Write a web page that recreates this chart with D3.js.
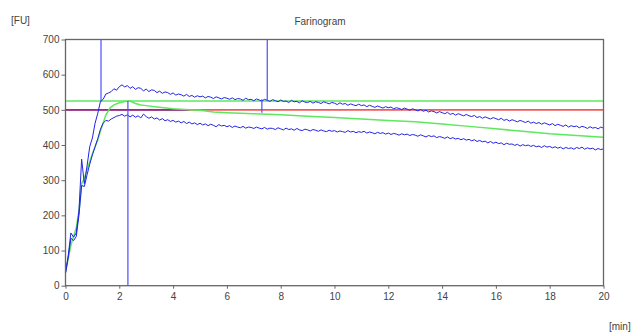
<!DOCTYPE html>
<html><head><meta charset="utf-8">
<script src="https://cdn.jsdelivr.net/npm/d3@7"></script>
<style>body{margin:0;background:#fff}svg{display:block}</style>
</head><body>
<svg id="c" width="632" height="334"></svg>
<script>
// ---- data ----
const title = "Farinogram";
const yUnit = "[FU]";
const xUnit = "[min]";
const xTicks = [0, 2, 4, 6, 8, 10, 12, 14, 16, 18, 20];
const yTicks = [0, 100, 200, 300, 400, 500, 600, 700];
const sampleStep = 0.1; // minutes between samples of the band curves
const upperBand = [
38,85,150,138,150,212,360,290,340,395,
420,462,490,524,530,545,548,552,560,556,
566,571,565,569,561,566,558,563,561,554,
559,552,557,555,549,553,547,551,549,544,
548,542,545,543,539,544,538,541,536,540,
537,539,534,538,536,532,537,534,531,535,
533,530,534,529,532,531,527,533,529,530,
526,531,528,525,530,527,524,529,526,523,
528,524,525,521,527,523,524,520,526,522,
521,524,519,523,521,518,523,520,517,521,
519,515,520,516,518,513,517,514,512,516,
512,514,509,513,510,507,511,508,505,509,
506,508,503,506,504,501,505,502,499,503,
500,497,501,496,499,494,497,495,491,495,
492,489,493,487,490,485,489,486,483,487,
483,481,484,478,481,476,480,477,474,478,
475,472,476,470,473,468,472,469,466,470,
467,464,468,462,465,461,464,459,463,460,
457,461,455,459,456,453,457,451,455,452,
454,449,453,451,447,452,448,450,446,451,448];
const lowerBand = [
35,80,135,128,140,200,285,282,315,345,
372,395,418,445,462,470,468,474,478,482,
484,487,482,486,480,485,479,483,477,488,
481,476,480,474,477,471,475,469,472,467,
470,465,468,463,467,461,465,460,463,458,
462,457,460,455,459,456,452,458,454,456,
452,455,450,454,451,449,453,448,451,450,
447,451,448,446,450,445,448,447,444,449,
446,443,448,444,446,442,447,443,441,445,
443,440,444,442,439,443,440,438,442,439,
441,437,440,438,436,441,437,439,435,438,
436,439,434,437,435,432,436,433,435,431,
434,430,433,431,428,432,429,431,427,430,
428,425,429,426,423,427,424,426,421,424,
422,419,423,418,421,417,419,415,418,414,
416,412,415,410,413,409,411,406,410,405,
408,404,406,401,405,402,403,399,402,397,
401,398,400,396,399,395,397,393,398,394,
396,392,395,391,394,389,393,390,392,388,
393,390,394,388,392,389,391,386,390,387,389];
const medianTimes = [0,0.2,0.4,0.5,0.6,0.7,0.8,1.0,1.2,1.35,1.5,1.65,1.8,2.0,2.2,2.4,2.6,2.8,3.0,3.4,4.0,4.6,5.0,5.5,6,7,8,9,10,11,12,13,14,15,16,17,18,19,20];
const medianValues = [38,115,165,210,290,305,330,375,415,452,485,505,514,520,524,525,518,514,512,508,503,500,499,494,492,489,486,482,478,474,470,466,460,453,446,439,432,427,422];
const consistencyLine = 500;
const toleranceLine = 525;
const markerTimes = [1.32, 2.32, 7.5, 7.3];
const markerTop = [700, 525, 700, 530];
const markerBottom = [522, 0, 527, 492];
const purpleEnd = 4.6;

// ---- chart ----
const svg = d3.select("#c");
const x = d3.scaleLinear().domain([0, 20]).range([65.5, 603.5]);
const y = d3.scaleLinear().domain([0, 700]).range([285.7, 39.5]);
const font = "Liberation Sans, Arial, sans-serif";
const blue = "#2323e6", green = "#5ee85e", red = "#f25a5a", mblue = "#4d4dff";

const line = d3.line().x(d => x(d[0])).y(d => y(d[1]));
const bandPts = arr => arr.map((v, i) => [i * sampleStep, v]);

// reference lines
svg.append("path").attr("d", line([[0, toleranceLine], [20, toleranceLine]]))
  .attr("stroke", green).attr("stroke-width", 1.6).attr("fill", "none");
svg.append("path").attr("d", line([[0, consistencyLine], [20, consistencyLine]]))
  .attr("stroke", red).attr("stroke-width", 1.6).attr("fill", "none");
svg.append("path").attr("d", line([[0, consistencyLine], [purpleEnd, consistencyLine]]))
  .attr("stroke", "#8a2f9a").attr("stroke-width", 1.8).attr("fill", "none");

// median curve
svg.append("path").attr("d", line(medianTimes.map((t, i) => [t, medianValues[i]])))
  .attr("stroke", green).attr("stroke-width", 1.5).attr("fill", "none");

// band curves
[upperBand, lowerBand].forEach(b => {
  svg.append("path").attr("d", line(bandPts(b)))
    .attr("stroke", blue).attr("stroke-width", 1.0).attr("fill", "none")
    .attr("stroke-linejoin", "round");
});

// markers
markerTimes.forEach((t, i) => {
  svg.append("line").attr("x1", x(t)).attr("x2", x(t))
    .attr("y1", y(markerTop[i])).attr("y2", y(markerBottom[i]))
    .attr("stroke", mblue).attr("stroke-width", 1.2);
});

// frame
svg.append("rect").attr("x", x(0)).attr("y", y(700))
  .attr("width", x(20) - x(0)).attr("height", y(0) - y(700))
  .attr("fill", "none").attr("stroke", "#666").attr("stroke-width", 1.3);

// axes
const ya = svg.append("g").attr("transform", `translate(${x(0)},0)`)
  .call(d3.axisLeft(y).tickValues(yTicks).tickSize(4).tickPadding(2));
const xa = svg.append("g").attr("transform", `translate(0,${y(0)})`)
  .call(d3.axisBottom(x).tickValues(xTicks).tickSize(3).tickPadding(4));
[ya, xa].forEach(g => {
  g.select(".domain").remove();
  g.selectAll("line").attr("stroke", "#666");
  g.selectAll("text").attr("font-family", font).attr("font-size", 10).attr("fill", "#444");
});

svg.append("text").attr("x", 320).attr("y", 25).attr("text-anchor", "middle")
  .attr("font-family", font).attr("font-size", 10).attr("fill", "#444").text(title);
svg.append("text").attr("x", 11).attr("y", 24)
  .attr("font-family", font).attr("font-size", 10).attr("fill", "#444").text(yUnit);
svg.append("text").attr("x", 609).attr("y", 330)
  .attr("font-family", font).attr("font-size", 10).attr("fill", "#444").text(xUnit);
</script>
</body></html>
